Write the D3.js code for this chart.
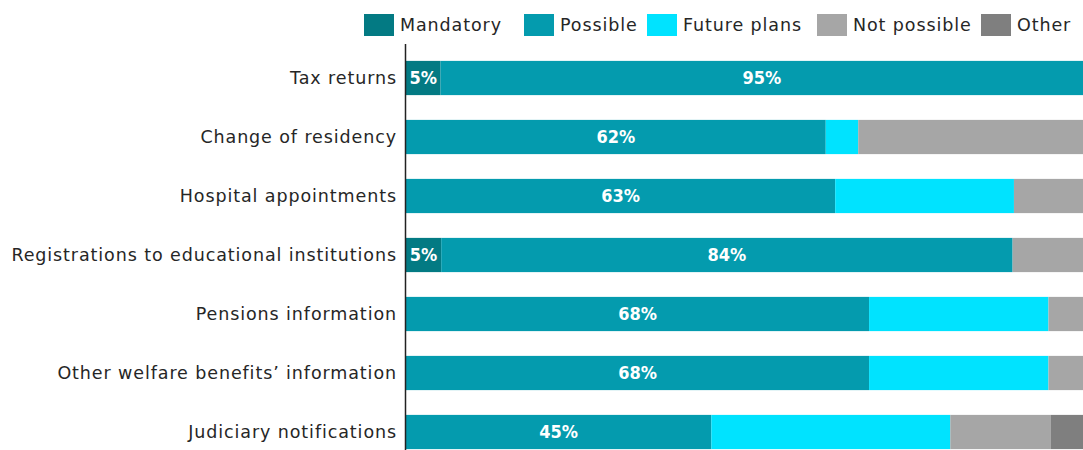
<!DOCTYPE html>
<html>
<head>
<meta charset="UTF-8">
<title>eGovernment services</title>
<script src="https://d3js.org/d3.v7.min.js"></script>
<style>
  body { margin: 0; background: #fff; }
  text { font-family: "DejaVu Sans", sans-serif; }
  .cat { font-size: 17.5px; fill: #262626; letter-spacing: 0.9px; }
  .leg { font-size: 17.5px; fill: #262626; letter-spacing: 0.9px; }
  .val { font-family: "Liberation Sans Narrow", "DejaVu Sans Condensed", sans-serif; font-size: 18px; font-weight: bold; fill: #fff; }
</style>
</head>
<body>
<div id="chart"></div>
<script>
// categories, top to bottom
var categories = [
  "Tax returns",
  "Change of residency",
  "Hospital appointments",
  "Registrations to educational institutions",
  "Pensions information",
  "Other welfare benefits\u2019 information",
  "Judiciary notifications"
];
var seriesNames = ["Mandatory", "Possible", "Future plans", "Not possible", "Other"];
var seriesColors = ["#037a83", "#049bae", "#00e3ff", "#a6a6a6", "#7f7f7f"];

// shares in %, per category
var mandatory   = [5.1,  0,    0,    5.2,  0,    0,    0];
var possible    = [94.9, 62,   63.4, 84.4, 68.4, 68.4, 45.1];
var futurePlans = [0,    4.8,  26.4, 0,    26.5, 26.5, 35.3];
var notPossible = [0,    33.2, 10.2, 10.4, 5.1,  5.1,  14.8];
var other       = [0,    0,    0,    0,    0,    0,    4.8];
// which series get a value label
var labelled = ["Mandatory", "Possible"];

var width = 1083, height = 450;

var svg = d3.select("#chart").append("svg")
  .attr("width", width).attr("height", height);

var rows = categories.map(function (c, i) {
  return { cat: c, "Mandatory": mandatory[i], "Possible": possible[i],
           "Future plans": futurePlans[i], "Not possible": notPossible[i], "Other": other[i] };
});

var stacked = d3.stack().keys(seriesNames)(rows);

var x = d3.scaleLinear().domain([0, 100]).range([406, 1083]);
var y = d3.scaleBand().domain(categories).range([48.5, 461.5])
  .paddingInner(0.42).paddingOuter(0.21);
var color = d3.scaleOrdinal().domain(seriesNames).range(seriesColors);

var layer = svg.selectAll(".layer")
  .data(stacked)
  .enter().append("g")
  .attr("class", "layer")
  .attr("fill", function (d) { return color(d.key); });

layer.selectAll("rect")
  .data(function (d) { return d; })
  .enter().append("rect")
  .attr("x", function (d) { return x(d[0]); })
  .attr("y", function (d) { return y(d.data.cat); })
  .attr("width", function (d) { return x(d[1]) - x(d[0]); })
  .attr("height", y.bandwidth());

// value labels
var fmt = d3.format(".0f");
stacked.filter(function (s) { return labelled.indexOf(s.key) >= 0; }).forEach(function (s) {
  svg.append("g").selectAll("text")
    .data(s.filter(function (d) { return d[1] - d[0] > 0; }))
    .enter().append("text")
    .attr("class", "val")
    .attr("x", function (d) { return (x(d[0]) + x(d[1])) / 2; })
    .attr("y", function (d) { return y(d.data.cat) + y.bandwidth() / 2; })
    .attr("dy", "0.36em")
    .attr("text-anchor", "middle")
    .text(function (d) { return fmt(d[1] - d[0]) + "%"; });
});

// category axis
var yAxis = svg.append("g")
  .attr("transform", "translate(405,0)")
  .call(d3.axisLeft(y).tickSize(0).tickPadding(8));
yAxis.select(".domain").remove();
yAxis.selectAll("text").attr("class", "cat").attr("font-family", null).attr("font-size", null);

svg.append("line")
  .attr("x1", 405.5).attr("x2", 405.5)
  .attr("y1", 44).attr("y2", 450)
  .attr("stroke", "#222").attr("stroke-width", 1.5);

// legend
var legendX = [364, 524, 647, 817, 981];
var leg = svg.selectAll(".legitem")
  .data(seriesNames)
  .enter().append("g")
  .attr("class", "legitem")
  .attr("transform", function (d, i) { return "translate(" + legendX[i] + ",14)"; });
leg.append("rect")
  .attr("width", 30).attr("height", 22)
  .attr("fill", function (d) { return color(d); });
leg.append("text")
  .attr("class", "leg")
  .attr("x", 36).attr("y", 11).attr("dy", "0.36em")
  .text(function (d) { return d; });
</script>
</body>
</html>
